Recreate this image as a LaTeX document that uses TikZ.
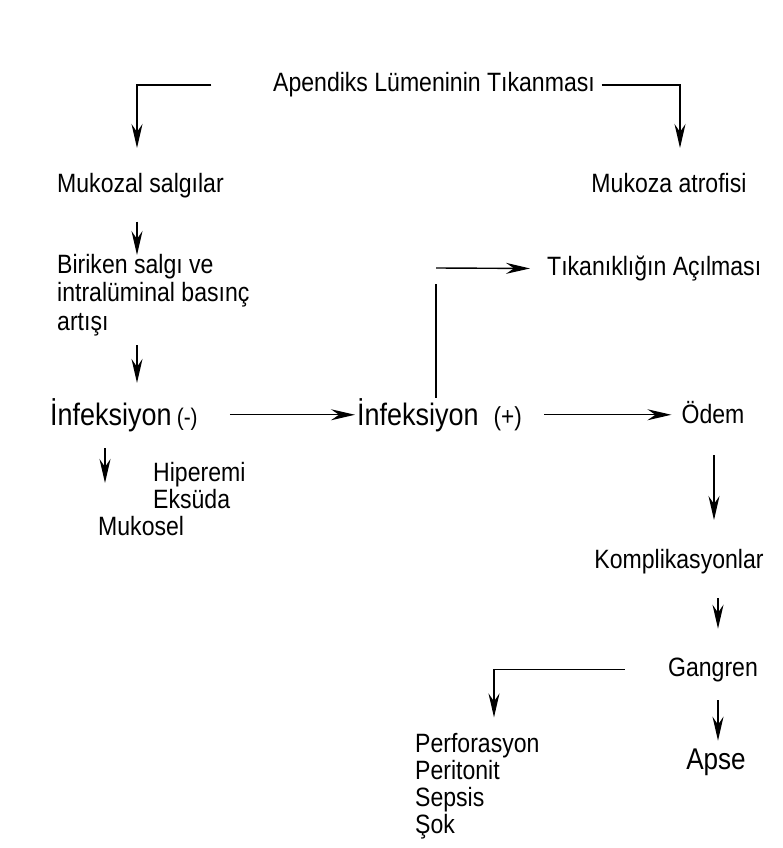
\documentclass[tikz,border=0pt]{standalone}
\usepackage{fontspec}
\setmainfont[FakeStretch=0.87]{Liberation Sans}
\usepackage{tikz}
\usetikzlibrary{arrows.meta,positioning}

\begin{document}
\begin{tikzpicture}[
    x=1pt, y=-1pt,
    >={Stealth[length=24pt,width=11pt,inset=8pt]},
    lbl/.style={font=\fontsize{26.5}{28.5}\selectfont, inner sep=0pt, align=left},
    big/.style={font=\fontsize{31}{34}\selectfont, inner sep=0pt},
    arr/.style={->, line width=1.4pt},
    ln/.style={line width=1.4pt}
]
\useasboundingbox (0,0) rectangle (782,848);
% columns of the vertical arrows
\coordinate (colL) at (137,0);
\coordinate (colM) at (105,0);
\coordinate (colA) at (680,0);
\coordinate (colO) at (714,0);
\coordinate (colG) at (718,0);
\coordinate (colP) at (494,0);
% top
\node[lbl, anchor=base] (title) at (434,92) {Apendiks Lümeninin Tıkanması};
\node[lbl, anchor=base west] (muk) at (57,192) {Mukozal salgılar};
\node[lbl, anchor=base] (atr) at (669,192) {Mukoza atrofisi};
\node[lbl, anchor=north west] (bir) at (57,254) {Biriken salgı ve\\intralüminal basınç\\artışı};
% infection row
\node[big, anchor=base west] (inf1) at (50,425) {İnfeksiyon\,{\fontsize{24}{26}\selectfont(-)}};
\node[big, anchor=base west] (inf2) at (357,425) {İnfeksiyon\ \ {\fontsize{26}{28}\selectfont(+)}};
\node[lbl, anchor=base] (odem) at (713,423) {Ödem};
\node[lbl, anchor=base west] (tik) at (547,275.5) {Tıkanıklığın Açılması};
\coordinate (bend) at (436,268);
\coordinate (upend) at (436,284);
% below left
\node[lbl, font=\fontsize{26.5}{27}\selectfont, anchor=north west] (hip) at (153,462.5) {Hiperemi\\Eksüda};
\node[lbl, anchor=base west] (mks) at (98,535) {Mukosel};
% right column
\node[lbl, anchor=base] (kmp) at (679,568) {Komplikasyonlar};
\node[lbl, anchor=base] (gng) at (713,676) {Gangren};
\node[big, font=\fontsize{30}{32}\selectfont, anchor=base] (aps) at (716,769) {Apse};
\node[lbl, font=\fontsize{26.5}{27}\selectfont, anchor=north west] (prf) at (415,733) {Perforasyon\\Peritonit\\Sepsis\\Şok};

\draw[arr, shorten <=61.5pt, shorten >=24.6pt] (title.west) -| (muk.north -| colL);
\draw[arr, shorten <=6.5pt, shorten >=24.6pt] (title.east) -| (atr.north -| colA);
\draw[arr, shorten <=24pt, shorten >=-1pt] (muk.south -| colL) -- (bir.north -| colL);
\draw[arr, shorten <=9pt, shorten >=15pt] (bir.south -| colL) -- (inf1.north -| colL);
\draw[arr, shorten <=32pt, shorten >=2pt] (inf1.east) -- (inf2.west);
\draw[arr, shorten <=22pt, shorten >=10pt] (inf2.east) -- (inf2.east -| odem.west);
\draw[ln] (inf2.north -| upend) -- (upend);
\draw[arr, shorten >=17pt] (bend) -- (tik.west);
\draw[arr, shorten <=16.5pt, shorten >=32.6pt] (inf1.south -| colM) -- (mks.north -| colM);
\draw[arr, shorten <=32pt, shorten >=28.6pt] (odem.south -| colO) -- (kmp.north -| colO);
\draw[arr, shorten <=24.4pt, shorten >=28.6pt] (kmp.south -| colG) -- (gng.north -| colG);
\draw[arr, shorten <=43pt, shorten >=15.6pt] (gng.west) -| (prf.north -| colP);
\draw[arr, shorten <=18.4pt, shorten >=7.5pt] (gng.south -| colG) -- (aps.north -| colG);
\end{tikzpicture}
\end{document}
